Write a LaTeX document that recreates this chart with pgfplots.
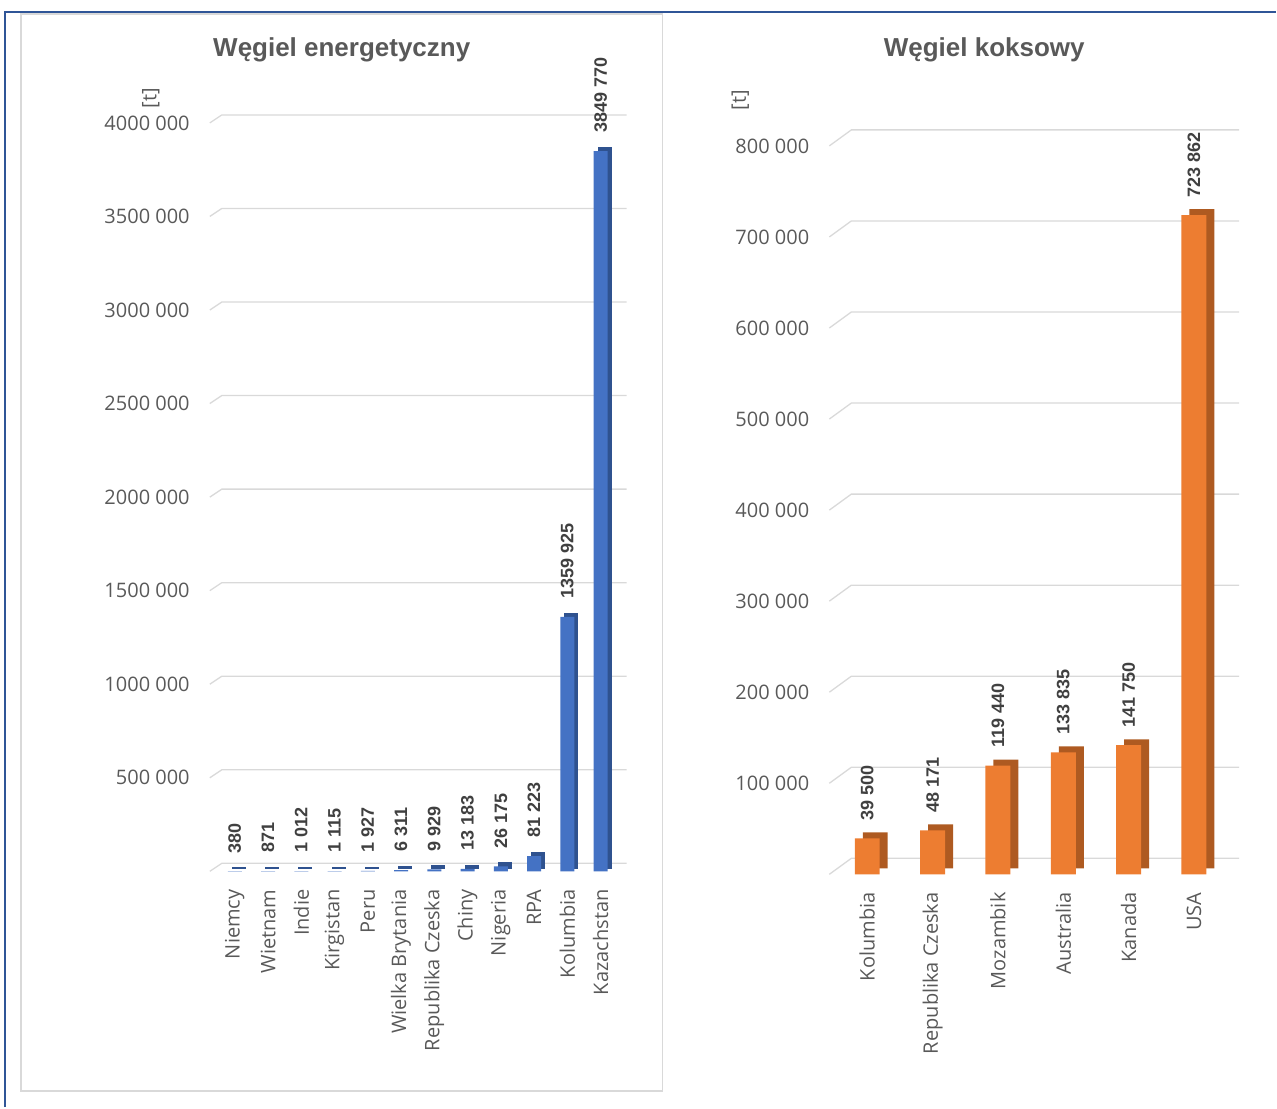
\documentclass[border=0pt]{standalone}
\usepackage{pgfplots}
\pgfplotsset{compat=1.18}
\usepackage{fontspec}
\setmainfont{Open Sans}
\newfontfamily\arialf{Liberation Sans}

\definecolor{txt}{HTML}{595959}
\definecolor{lbl}{HTML}{404040}
\definecolor{gridc}{HTML}{D9D9D9}
\definecolor{frameblue}{HTML}{2F5597}
\definecolor{barblue}{HTML}{4472C4}
\definecolor{barblueside}{HTML}{2F528F}
\definecolor{barorange}{HTML}{ED7D31}
\definecolor{barorangeside}{HTML}{AE5A21}

\pgfplotsset{
  panel/.style={
    scale only axis,
    anchor=south west,
    clip=false,
    axis line style={draw=none},
    tick style={draw=none},
    scaled y ticks=false,
    ymin=0,
    xtick=data,
    tick label style={font=\fontsize{20}{24}\selectfont, text=txt},
    yticklabel style={anchor=east, inner sep=0pt, xshift=-20pt},
    xticklabel style={yshift=-18pt, rotate=90, anchor=east, inner sep=0pt},
    nodes near coords style={rotate=90, anchor=west, inner sep=0pt, xshift=18pt,
      font=\arialf\bfseries\fontsize{18}{22}\selectfont, text=lbl},
  },
}

\begin{document}
\begin{tikzpicture}[x=1pt,y=1pt]
\path (0pt,0pt) rectangle (1277pt,1108pt);
\draw[frameblue, line width=2pt] (5pt,0pt) -- (5pt,1096pt) -- (1277pt,1096pt);
\draw[gridc, line width=1.5pt] (21pt,16pt) rectangle (663pt,1094pt);

\node[font=\arialf\bfseries\fontsize{26}{30}\selectfont, text=txt] at (342pt,1058pt) {Węgiel energetyczny};
\node[font=\arialf\bfseries\fontsize{26}{30}\selectfont, text=txt] at (985pt,1058pt) {Węgiel koksowy};
\node[rotate=90, font=\fontsize{20}{24}\selectfont, text=txt] at (151pt,1010pt) {[t]};
\node[rotate=90, font=\fontsize{20}{24}\selectfont, text=txt] at (741pt,1008pt) {[t]};

% Left panel: Wegiel energetyczny
\begin{axis}[panel,
  at={(210pt,236pt)}, width=417pt, height=749pt,
  xmin=-0.75, xmax=11.78, ymax=4000000,
  ytick={0,500000,1000000,1500000,2000000,2500000,3000000,3500000,4000000},
  yticklabels={{},\mbox{500 000},\mbox{1000 000},\mbox{1500 000},\mbox{2000 000},\mbox{2500 000},\mbox{3000 000},\mbox{3500 000},\mbox{4000 000}},
  xticklabels={Niemcy,Wietnam,Indie,Kirgistan,Peru,Wielka Brytania,Republika Czeska,Chiny,Nigeria,RPA,Kolumbia,Kazachstan},
]
\pgfplotsinvokeforeach{0,500000,1000000,1500000,2000000,2500000,3000000,3500000,4000000}{
  \draw[gridc, line width=1.3pt] (axis cs:-0.75,#1) -- ([shift={(12pt,8pt)}]axis cs:-0.75,#1) -- ([yshift=8pt]axis cs:11.78,#1);
}
\addplot[ybar, bar width=12pt, bar shift=4pt, yshift=3pt, fill=barblueside, draw=barblueside, line width=2pt]
  coordinates {(0,380) (1,871) (2,1012) (3,1115) (4,1927) (5,6311) (6,9929) (7,13183) (8,26175) (9,81223) (10,1359925) (11,3849770)};
\addplot[ybar, bar width=14pt, bar shift=0pt, fill=barblue, draw=none,
  nodes near coords, point meta=explicit symbolic]
  coordinates {(0,380) [380] (1,871) [871] (2,1012) [1 012] (3,1115) [1 115] (4,1927) [1 927] (5,6311) [6 311] (6,9929) [9 929] (7,13183) [13 183] (8,26175) [26 175] (9,81223) [81 223] (10,1359925) [1359 925] (11,3849770) [3849 770]};
\end{axis}

% Right panel: Wegiel koksowy
\begin{axis}[panel,
  at={(830pt,233pt)}, width=410pt, height=729pt,
  xmin=-0.58, xmax=5.69, ymax=800000,
  ytick={0,100000,200000,300000,400000,500000,600000,700000,800000},
  yticklabels={{},\mbox{100 000},\mbox{200 000},\mbox{300 000},\mbox{400 000},\mbox{500 000},\mbox{600 000},\mbox{700 000},\mbox{800 000}},
  xticklabels={Kolumbia,Republika Czeska,Mozambik,Australia,Kanada,USA},
]
\pgfplotsinvokeforeach{0,100000,200000,300000,400000,500000,600000,700000,800000}{
  \draw[gridc, line width=1.3pt] (axis cs:-0.58,#1) -- ([shift={(22pt,16pt)}]axis cs:-0.58,#1) -- ([yshift=16pt]axis cs:5.69,#1);
}
\addplot[ybar, bar width=25pt, bar shift=8pt, yshift=6pt, fill=barorangeside, draw=none]
  coordinates {(0,39500) (1,48171) (2,119440) (3,133835) (4,141750) (5,723862)};
\addplot[ybar, bar width=25pt, bar shift=0pt, fill=barorange, draw=none,
  nodes near coords, point meta=explicit symbolic]
  coordinates {(0,39500) [39 500] (1,48171) [48 171] (2,119440) [119 440] (3,133835) [133 835] (4,141750) [141 750] (5,723862) [723 862]};
\end{axis}
\end{tikzpicture}
\end{document}
